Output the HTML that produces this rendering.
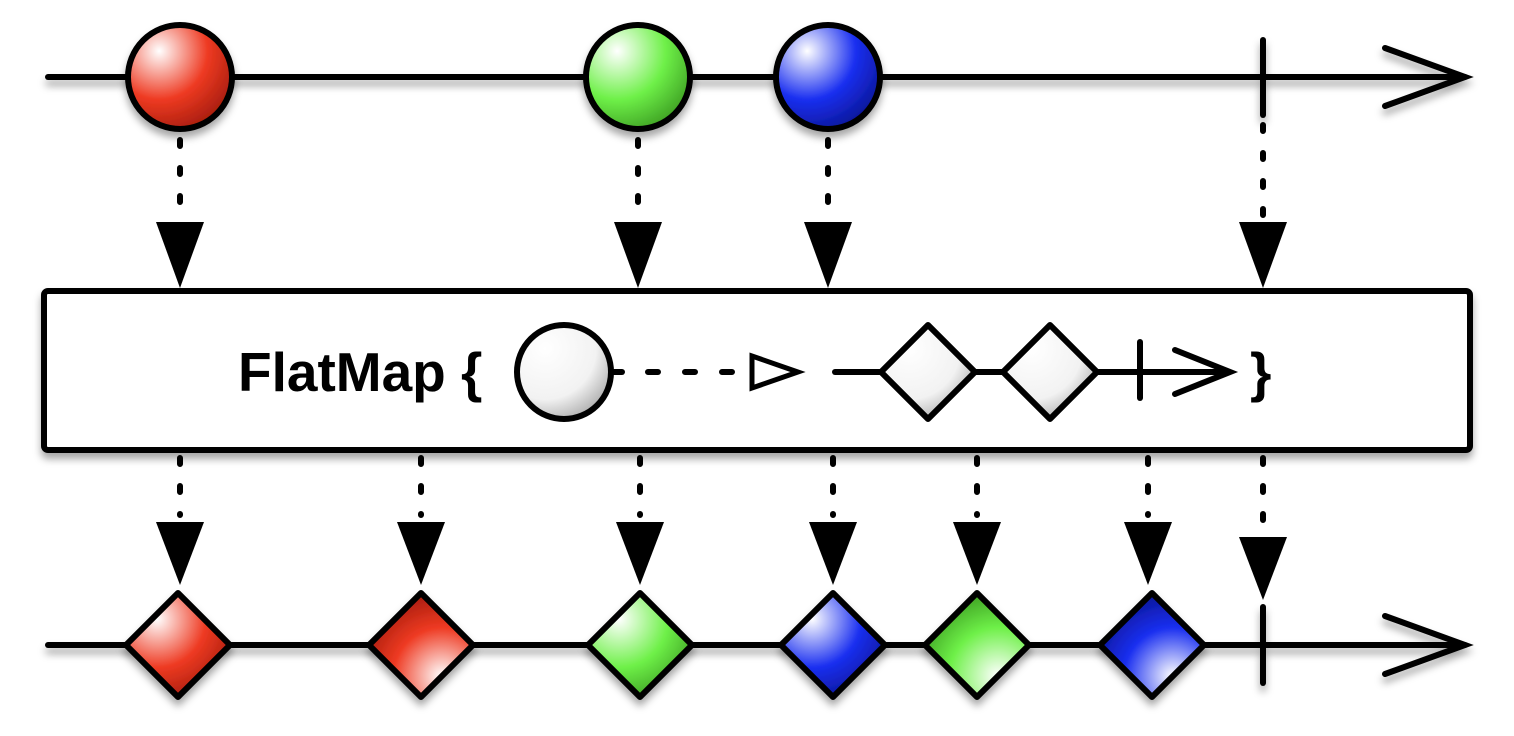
<!DOCTYPE html>
<html><head><meta charset="utf-8"><style>html,body{margin:0;padding:0;background:#fff;}svg{display:block}</style></head><body>
<svg width="1514" height="736" viewBox="0 0 1514 736" xmlns="http://www.w3.org/2000/svg">
<defs>
<radialGradient id="r" cx="0.3" cy="0.25" r="0.85"><stop offset="0" stop-color="#fff"/><stop offset="0.55" stop-color="#ee3a22"/><stop offset="1" stop-color="#a01a0c"/></radialGradient>
<radialGradient id="g" cx="0.3" cy="0.25" r="0.85"><stop offset="0" stop-color="#fff"/><stop offset="0.55" stop-color="#6ef048"/><stop offset="1" stop-color="#3a9a20"/></radialGradient>
<radialGradient id="b" cx="0.3" cy="0.25" r="0.85"><stop offset="0" stop-color="#fff"/><stop offset="0.55" stop-color="#1a2ff0"/><stop offset="1" stop-color="#0a1490"/></radialGradient>
<radialGradient id="w" cx="0.3" cy="0.25" r="0.9"><stop offset="0" stop-color="#fff"/><stop offset="0.6" stop-color="#f2f2f2"/><stop offset="1" stop-color="#9a9a9a"/></radialGradient>
<radialGradient id="rb" cx="0.7" cy="0.8" r="0.85"><stop offset="0" stop-color="#fff"/><stop offset="0.55" stop-color="#ee3a22"/><stop offset="1" stop-color="#a01a0c"/></radialGradient>
<radialGradient id="gb" cx="0.7" cy="0.8" r="0.85"><stop offset="0" stop-color="#fff"/><stop offset="0.55" stop-color="#6ef048"/><stop offset="1" stop-color="#3a9a20"/></radialGradient>
<radialGradient id="bb" cx="0.7" cy="0.8" r="0.85"><stop offset="0" stop-color="#fff"/><stop offset="0.55" stop-color="#1a2ff0"/><stop offset="1" stop-color="#0a1490"/></radialGradient>
<filter id="sh" x="-20%" y="-20%" width="140%" height="160%"><feDropShadow dx="0" dy="6" stdDeviation="4" flood-color="#000" flood-opacity="0.35"/></filter>
</defs>
<g stroke="#000" stroke-width="6" fill="none" stroke-linecap="round" filter="url(#sh)">
<line x1="48" y1="77" x2="1465" y2="77"/>
<polyline points="1385,48 1465,77 1385,106"/>
<line x1="1263" y1="40" x2="1263" y2="115"/>
<line x1="48" y1="645" x2="1465" y2="645"/>
<polyline points="1385,616 1465,645 1385,674"/>
<line x1="1263" y1="607" x2="1263" y2="683"/>
</g>
<g stroke="#000" stroke-width="6" filter="url(#sh)">
<circle cx="180" cy="77" r="52" fill="url(#r)"/>
<circle cx="638" cy="77" r="52" fill="url(#g)"/>
<circle cx="828" cy="77" r="52" fill="url(#b)"/>
</g>
<g stroke="#000" stroke-width="6" stroke-linecap="round" stroke-dasharray="6 22">
<line x1="180" y1="140" x2="180" y2="215"/>
<line x1="638" y1="140" x2="638" y2="215"/>
<line x1="828" y1="140" x2="828" y2="215"/>
<line x1="1263" y1="125" x2="1263" y2="215"/>
<line x1="180" y1="458" x2="180" y2="515"/>
<line x1="421" y1="458" x2="421" y2="515"/>
<line x1="640" y1="458" x2="640" y2="515"/>
<line x1="833" y1="458" x2="833" y2="515"/>
<line x1="977" y1="458" x2="977" y2="515"/>
<line x1="1148" y1="458" x2="1148" y2="515"/>
<line x1="1263" y1="458" x2="1263" y2="530"/>
</g>
<g fill="#000">
<polygon points="156,222 204,222 180,288"/>
<polygon points="614,222 662,222 638,288"/>
<polygon points="804,222 852,222 828,288"/>
<polygon points="1239,222 1287,222 1263,288"/>
<polygon points="156,522 204,522 180,585"/>
<polygon points="397,522 445,522 421,585"/>
<polygon points="616,522 664,522 640,585"/>
<polygon points="809,522 857,522 833,585"/>
<polygon points="953,522 1001,522 977,585"/>
<polygon points="1124,522 1172,522 1148,585"/>
<polygon points="1239,537 1287,537 1263,600"/>
</g>
<rect x="44" y="291" width="1426" height="159" rx="4" fill="#fff" stroke="#000" stroke-width="6" filter="url(#sh)"/>
<text x="238" y="391" font-family="Liberation Sans, sans-serif" font-weight="bold" font-size="55" fill="#000">FlatMap {</text>
<text x="1250" y="391" font-family="Liberation Sans, sans-serif" font-weight="bold" font-size="55" fill="#000">}</text>
<g stroke="#000" stroke-width="6" fill="none" stroke-linecap="round">
<line x1="612" y1="372" x2="622" y2="372"/>
<line x1="648" y1="372" x2="740" y2="372" stroke-dasharray="10 27"/>
<polygon points="752,356 798,372 752,388" stroke-width="5" stroke-linejoin="miter"/>
<line x1="835" y1="372" x2="1225" y2="372"/>
<polyline points="1175,350 1230,372 1175,394"/>
<line x1="1140" y1="342" x2="1140" y2="398"/>
</g>
<g stroke="#000" stroke-width="6" stroke-linejoin="round">
<circle cx="564" cy="372" r="47" fill="url(#w)"/>
<polygon points="928,325 975,372 928,419 881,372" fill="url(#w)"/>
<polygon points="1050,325 1097,372 1050,419 1003,372" fill="url(#w)"/>
</g>
<g stroke="#000" stroke-width="6" stroke-linejoin="round" filter="url(#sh)">
<polygon points="178,593 230,645 178,697 126,645" fill="url(#r)"/>
<polygon points="421,593 473,645 421,697 369,645" fill="url(#rb)"/>
<polygon points="640,593 692,645 640,697 588,645" fill="url(#g)"/>
<polygon points="833,593 885,645 833,697 781,645" fill="url(#b)"/>
<polygon points="977,593 1029,645 977,697 925,645" fill="url(#gb)"/>
<polygon points="1152,593 1204,645 1152,697 1100,645" fill="url(#bb)"/>
</g>
</svg>
</body></html>
